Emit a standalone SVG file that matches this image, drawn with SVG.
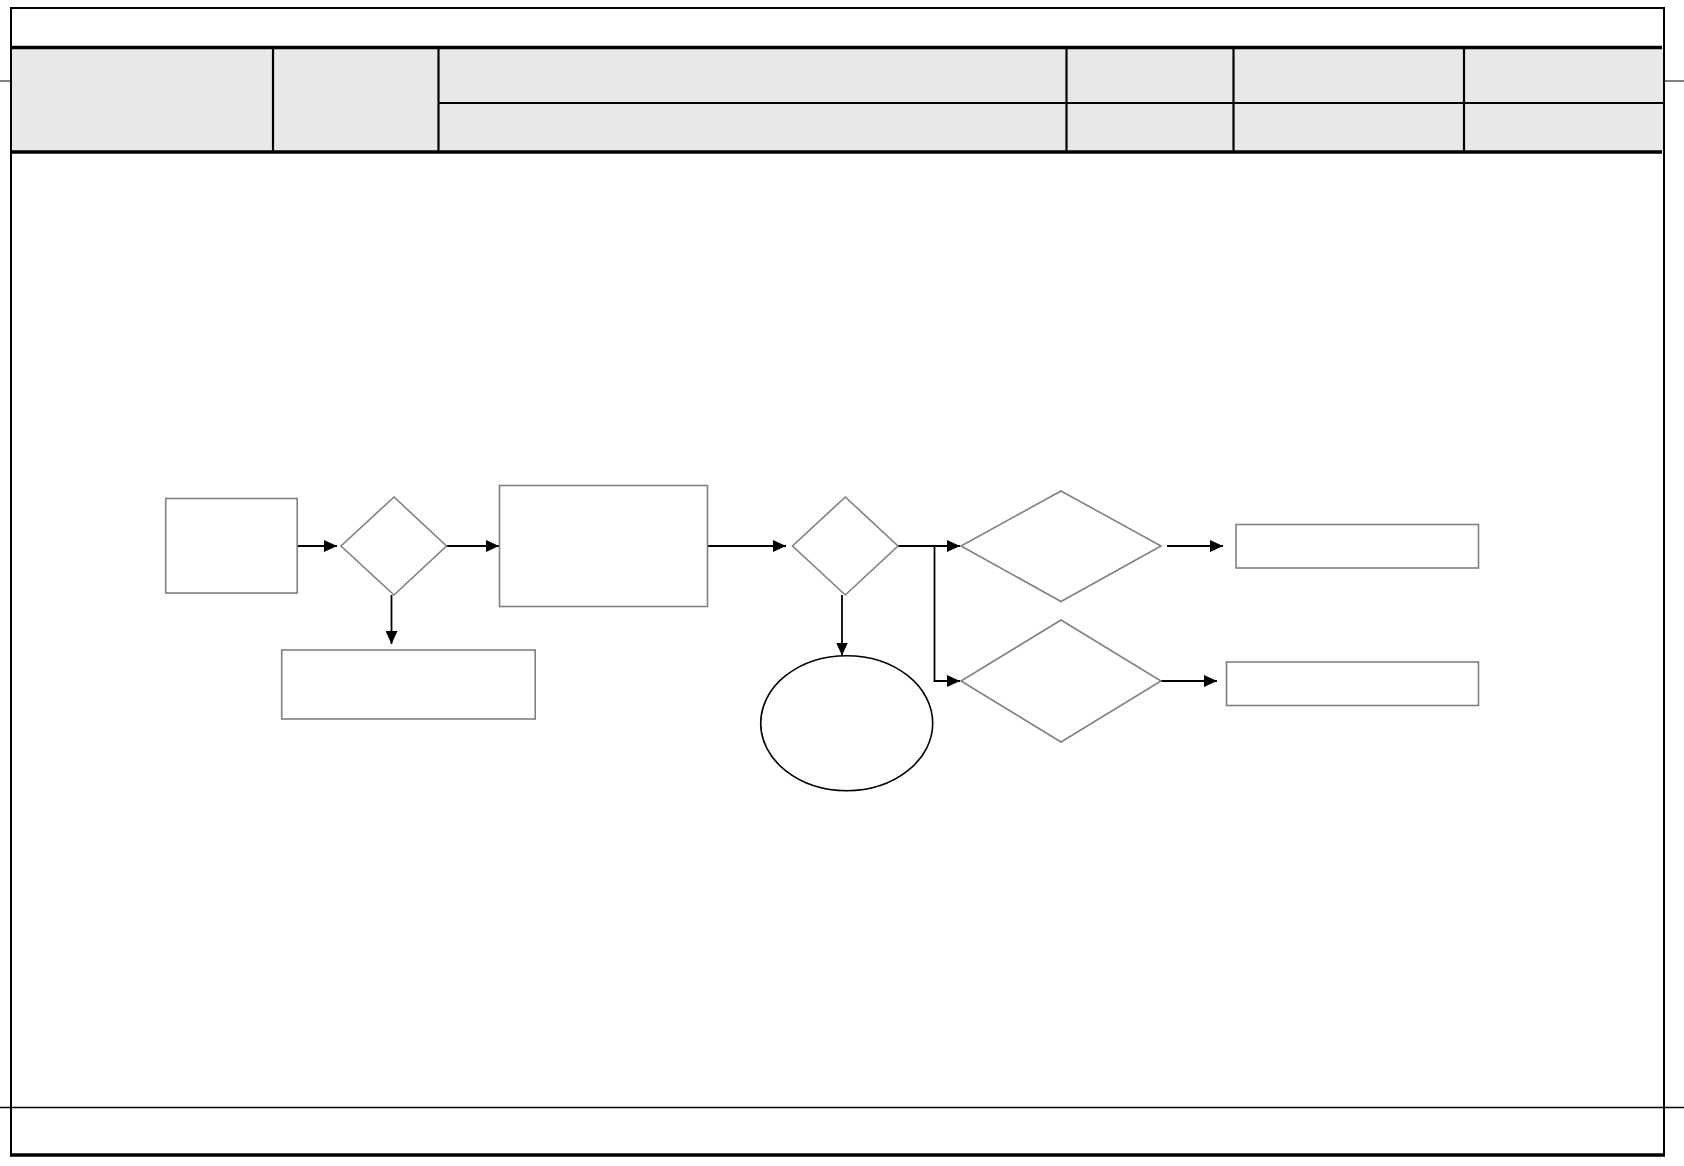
<svg xmlns="http://www.w3.org/2000/svg" width="1684" height="1166" viewBox="0 0 1684 1166">
<style>
.frame{fill:none;stroke:#000;stroke-width:2}
.hl{stroke:#000;stroke-width:3.5}
.vl{stroke:#000;stroke-width:2.2}
.tick{stroke:#808080;stroke-width:2}
.node{fill:#fff;stroke:#808080;stroke-width:1.6}
.term{fill:#fff;stroke:#000;stroke-width:1.6}
.conn{fill:none;stroke:#000;stroke-width:1.8}
</style>
<defs>
<marker id="arr" viewBox="0 0 13 12" refX="13" refY="6" markerWidth="13" markerHeight="12" markerUnits="userSpaceOnUse" orient="auto">
<path d="M0,0 L13,6 L0,12 Z" fill="#000"/>
</marker>
</defs>
<rect width="1684" height="1166" fill="#fff"/>
<g id="frame">
<rect x="11" y="48.5" width="1652" height="103" fill="#e8e8e8"/>
<line class="tick" x1="0" y1="81" x2="11" y2="81"/>
<line class="tick" x1="1663" y1="81" x2="1684" y2="81"/>
<line x1="0" y1="1107.5" x2="1684" y2="1107.5" stroke="#000" stroke-width="1.5"/>
<line class="frame" x1="11" y1="8" x2="1664" y2="8"/>
<line class="frame" x1="11" y1="7" x2="11" y2="1156"/>
<line class="frame" x1="1664" y1="7" x2="1664" y2="1156"/>
<line x1="10" y1="1155" x2="1665" y2="1155" stroke="#000" stroke-width="3.5"/>
<line class="hl" x1="11" y1="47.5" x2="1662" y2="47.5"/>
<line class="hl" x1="11" y1="152" x2="1662" y2="152"/>
<line class="hl" x1="438" y1="103" x2="1663" y2="103" style="stroke-width:2.2"/>
<line class="vl" x1="273" y1="49" x2="273" y2="151"/>
<line class="vl" x1="438.5" y1="49" x2="438.5" y2="151"/>
<line class="vl" x1="1066.5" y1="49" x2="1066.5" y2="151"/>
<line class="vl" x1="1233.5" y1="49" x2="1233.5" y2="151"/>
<line class="vl" x1="1464" y1="49" x2="1464" y2="151"/>
</g>
<g id="connectors">
<line class="conn" x1="297" y1="546" x2="337" y2="546" marker-end="url(#arr)"/>
<line class="conn" x1="446" y1="546" x2="499" y2="546" marker-end="url(#arr)"/>
<line class="conn" x1="391.5" y1="595" x2="391.5" y2="644" marker-end="url(#arr)"/>
<line class="conn" x1="708" y1="546" x2="786" y2="546" marker-end="url(#arr)"/>
<line class="conn" x1="842" y1="595" x2="842" y2="655.5" marker-end="url(#arr)"/>
<line class="conn" x1="898" y1="546" x2="960" y2="546" marker-end="url(#arr)"/>
<polyline class="conn" points="934.5,546 934.5,681 960,681" marker-end="url(#arr)"/>
<line class="conn" x1="1167" y1="546" x2="1223" y2="546" marker-end="url(#arr)"/>
<line class="conn" x1="1161" y1="681" x2="1217" y2="681" marker-end="url(#arr)"/>
</g>
<g id="n1"><rect class="node" x="165.7" y="498.5" width="131.5" height="94.5"/></g>
<g id="n2"><polygon class="node" points="394,497 446.5,546 394,595 341,546"/></g>
<g id="n3"><rect class="node" x="281.7" y="650" width="253.5" height="69"/></g>
<g id="n4"><rect class="node" x="499.5" y="485.5" width="208" height="121"/></g>
<g id="n5"><polygon class="node" points="845.3,497 898,546 845.3,595 792.5,546"/></g>
<g id="n6"><ellipse class="term" cx="846.7" cy="723.2" rx="86" ry="67.5"/></g>
<g id="n7"><polygon class="node" points="1061,491 1161,546 1061,601.5 961,546"/></g>
<g id="n8"><polygon class="node" points="1061,620 1161,681 1061,742 961,681"/></g>
<g id="n9"><rect class="node" x="1236" y="524.5" width="242.5" height="43.5"/></g>
<g id="n10"><rect class="node" x="1226.5" y="662" width="252" height="43.5"/></g>
</svg>
